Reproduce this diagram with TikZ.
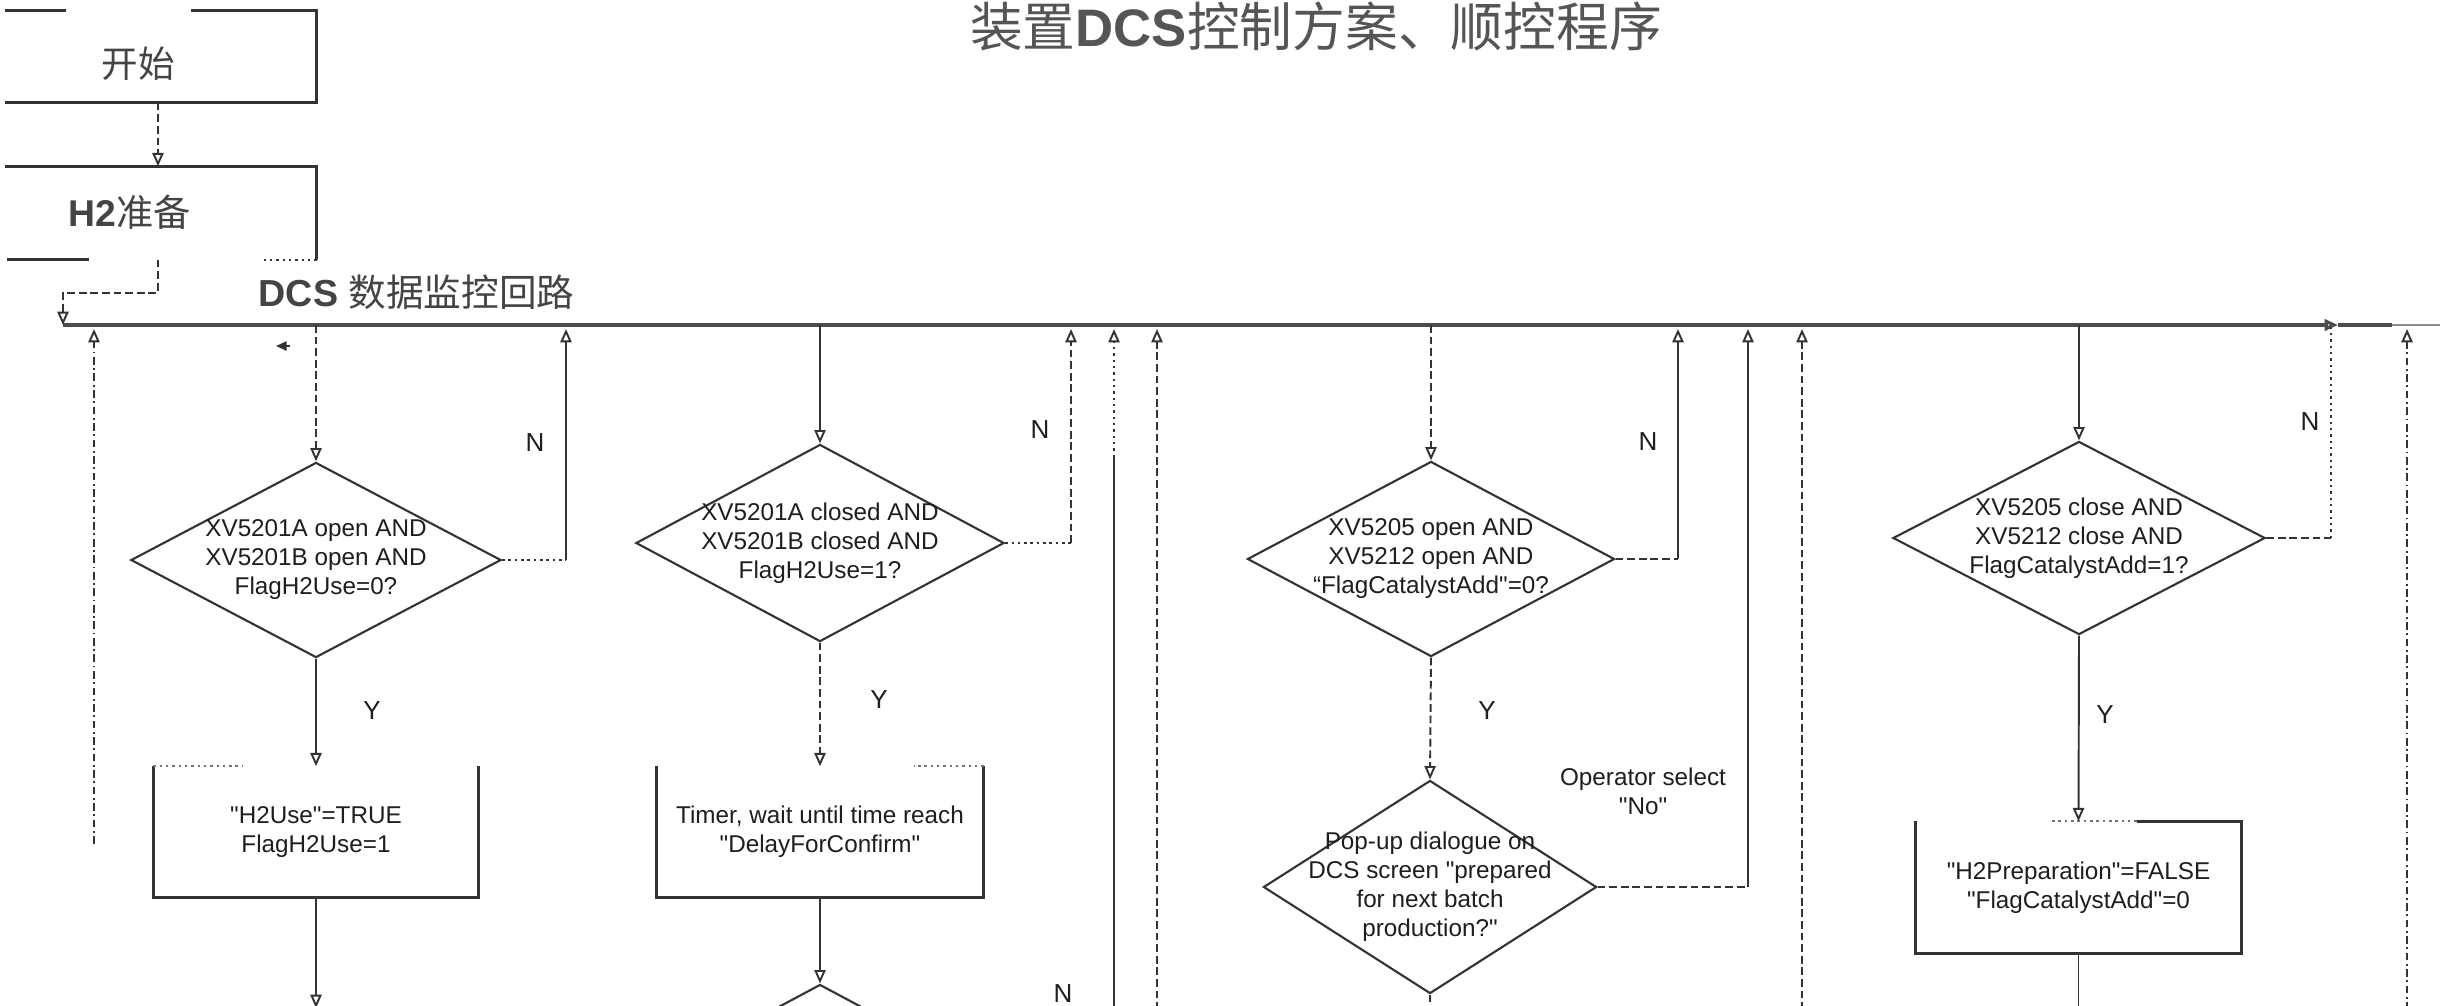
\documentclass[tikz,border=0pt]{standalone}
\usepackage{fontspec}
\setmainfont{Liberation Sans}[Ligatures=TeXOff]
\newfontfamily\cjk{Noto Sans CJK SC}
\usetikzlibrary{arrows.meta,shapes.geometric,calc}
\definecolor{ink}{HTML}{1E1E1E}
\definecolor{headgray}{HTML}{555555}
\definecolor{labgray}{HTML}{444444}
\definecolor{linegray}{HTML}{333333}
\begin{document}
\begin{tikzpicture}[x=0.01cm,y=-0.01cm]
\tikzset{
 ln/.style={draw=linegray, line width=0.55pt},
 dsh/.style={ln, dash pattern=on 2.2pt off 1.1pt},
 ddot/.style={ln, dash pattern=on 2.2pt off 1pt on 0.5pt off 1pt},
 dotl/.style={ln, dash pattern=on 0.7pt off 1.1pt},
 arr/.style={-{Triangle[open,length=3.8pt,width=3.2pt]}},
 boxln/.style={draw=linegray, line width=0.8pt},
 busln/.style={draw=black!70, line width=0.9pt},
 dia/.style={diamond, draw=linegray, line width=0.6pt, inner sep=0pt, aspect=1.9},
 bx/.style={rectangle, inner sep=0pt, draw=none},
 txt/.style={font=\fontsize{6.9pt}{8.25pt}\selectfont, text=ink, align=center, inner sep=0pt},
 yn/.style={font=\fontsize{7.4pt}{9pt}\selectfont, text=ink, inner sep=0pt},
 cn/.style={text=labgray, inner sep=0pt},
}
\useasboundingbox (0,0) rectangle (2451,1005);
\fill[white] (0,0) rectangle (2451,1005);

% title
\node[font=\fontsize{15pt}{18pt}\selectfont, text=headgray, inner sep=0pt] (title) at (1316,26)
  {{\cjk 装置}\textbf{DCS}{\cjk 控制方案、顺控程序}};

% start box
\node[bx, minimum width=3.16cm, minimum height=0.91cm] (start) at (158,56.5) {};
\draw[boxln] ($(start.north west)+(6,0)$) -- ($(start.north west)+(67,0)$);
\draw[boxln] ($(start.north west)+(192,0)$) -- (start.north east) -- (start.south east) -- ($(start.south west)+(6,0)$);
\node[cn, font=\cjk\fontsize{10.4pt}{12pt}\selectfont] (startlbl) at (138,64) {开始};

% H2 box
\node[bx, minimum width=3.16cm, minimum height=0.92cm] (h2) at (158,213) {};
\draw[boxln] ($(h2.north west)+(6,0)$) -- (h2.north east) -- (h2.south east);
\draw[boxln] ($(h2.south west)+(8,0)$) -- ($(h2.south west)+(90,0)$);
\draw[dotl] (h2.south east) -- ($(h2.south west)+(262,0)$);
\node[cn, font=\fontsize{10.6pt}{12pt}\selectfont] (h2lbl) at (130,212) {\textbf{H2}{\cjk 准备}};
\draw[dsh,arr] (start.south) -- (h2.north);

% bus
\coordinate (busL) at (63,325);
\coordinate (busArr) at (2338,325);
\coordinate (busM) at (2392,325);
\coordinate (busR) at (2440,325);
\draw[busln,arr] (busL) -- (busArr);
\draw[busln] (busArr) -- (busM);
\draw[ln, draw=black!45] (busM) -- (busR);
\draw[dsh,arr] (h2.south) -- ++(0,33) -| (busL);
\node[cn, font=\fontsize{10.7pt}{12pt}\selectfont, anchor=west] (loop) at (258,292) {\textbf{DCS} {\cjk 数据监控回路}};

% ---------- column 1
\node[dia, minimum width=3.7cm, minimum height=1.95cm] (d1) at (316,560) {};
\node[txt] (d1t) at (d1.center) {XV5201A open AND\\XV5201B open AND\\FlagH2Use=0?};
\draw[dsh,arr] (d1.north |- busL) -- (d1.north);
\node[bx, minimum width=3.24cm, minimum height=1.30cm] (bx1) at (316,832) {};
\node[txt] (bx1t) at (bx1.center) {"H2Use"=TRUE\\FlagH2Use=1};
\draw[boxln] (bx1.north west) -- (bx1.south west) -- (bx1.south east) -- (bx1.north east);
\draw[dotl, draw=black!55] (bx1.north west) -- ++(90,0);
\draw[ln,arr] (d1.south) -- (bx1.north);
\node[yn] (y1) at (372,711) {Y};
\coordinate (e1) at (316,1008);
\draw[ln,arr] (bx1.south) -- (e1);
\coordinate (n1) at (566,329);
\draw[dotl] (d1.east) -- (d1.east -| n1);
\draw[ln,arr] (d1.east -| n1) -- (n1);
\node[yn] (nl1) at (535,443) {N};
\coordinate (l1a) at (94,844);
\coordinate (l1b) at (94,329);
\draw[ddot,arr] (l1a) -- (l1b);
\coordinate (m1a) at (290,346);
\coordinate (m1b) at (276,346);
\draw[ln,-{Triangle[length=3pt,width=2.6pt]}] (m1a) -- (m1b);

% ---------- column 2
\node[dia, minimum width=3.68cm, minimum height=1.97cm] (d2) at (820,543) {};
\node[txt] (d2t) at (d2.center) {XV5201A closed AND\\XV5201B closed AND\\FlagH2Use=1?};
\draw[ln,arr] (d2.north |- busL) -- (d2.north);
\node[bx, minimum width=3.26cm, minimum height=1.30cm] (bx2) at (820,832) {};
\node[txt] (bx2t) at (bx2.center) {Timer, wait until time reach\\"DelayForConfirm"};
\draw[boxln] (bx2.north west) -- (bx2.south west) -- (bx2.south east) -- (bx2.north east);
\draw[dotl, draw=black!55] (bx2.north east) -- ++(-70,0);
\draw[dsh,arr] (d2.south) -- (bx2.north);
\node[yn] (y2) at (879,700) {Y};
\node[dia, minimum width=3.68cm, minimum height=1.97cm] (d2b) at (820,1083) {};
\draw[ln,arr] (bx2.south) -- (d2b.north);
\node[yn] (nl2b) at (1063,994) {N};
\coordinate (n2) at (1071,329);
\draw[dotl] (d2.east) -- (d2.east -| n2);
\draw[dsh,arr] (d2.east -| n2) -- (n2);
\node[yn] (nl2) at (1040,430) {N};
\coordinate (v1a) at (1114,1010);
\coordinate (v1m) at (1114,457);
\coordinate (v1b) at (1114,329);
\draw[ln] (v1a) -- (v1m);
\draw[dotl,arr] (v1m) -- (v1b);
\coordinate (v2a) at (1157,1010);
\coordinate (v2b) at (1157,329);
\draw[dsh,arr] (v2a) -- (v2b);

% ---------- column 3
\node[dia, minimum width=3.67cm, minimum height=1.95cm] (d3) at (1431,559) {};
\node[txt] (d3t) at (d3.center) {XV5205 open AND\\XV5212 open AND\\“FlagCatalystAdd"=0?};
\draw[dsh,arr] (d3.north |- busL) -- (d3.north);
\coordinate (n3) at (1678,329);
\draw[dsh] (d3.east) -- (d3.east -| n3);
\draw[ln,arr] (d3.east -| n3) -- (n3);
\node[yn] (nl3) at (1648,442) {N};
\node[dia, minimum width=3.33cm, minimum height=2.13cm] (pop) at (1430,887) {};
\node[txt] (popt) at (pop.center) {Pop-up dialogue on\\DCS screen "prepared\\for next batch\\production?"};
\draw[dsh,arr] (d3.south) -- (pop.north);
\node[yn] (y3) at (1487,711) {Y};
\coordinate (op) at (1748,329);
\draw[dsh] (pop.east) -- (pop.east -| op);
\draw[ln,arr] (pop.east -| op) -- (op);
\node[txt] (opl) at (1643,791) {Operator select\\"No"};
\coordinate (e3) at (1430,1010);
\draw[dsh] (pop.south) -- (e3);
\coordinate (v3a) at (1802,1010);
\coordinate (v3b) at (1802,329);
\draw[dsh,arr] (v3a) -- (v3b);

% ---------- column 4
\node[dia, minimum width=3.72cm, minimum height=1.93cm] (d4) at (2079,538) {};
\node[txt] (d4t) at (d4.center) {XV5205 close AND\\XV5212 close AND\\FlagCatalystAdd=1?};
\draw[ln,arr] (d4.north |- busL) -- (d4.north);
\node[bx, minimum width=3.25cm, minimum height=1.31cm] (bx4) at (2078.5,887.5) {};
\node[txt] (bx4t) at (bx4.center) {"H2Preparation"=FALSE\\"FlagCatalystAdd"=0};
\draw[boxln] (bx4.north west) -- (bx4.south west) -- (bx4.south east) -- (bx4.north east) -- ++(-105,0);
\draw[dotl, draw=black!55] ($(bx4.north east)+(-105,0)$) -- ++(-85,0);
\draw[ln,arr] (d4.south) -- (bx4.north);
\node[yn] (y4) at (2105,715) {Y};
\coordinate (e4) at (2078.5,1010);
\draw[ln] (bx4.south) -- (e4);
\coordinate (n4) at (2331,325);
\draw[dsh] (d4.east) -- (d4.east -| n4);
\draw[dotl] (d4.east -| n4) -- (n4);
\node[yn] (nl4) at (2310,422) {N};
\coordinate (v4a) at (2407,1010);
\coordinate (v4b) at (2407,329);
\draw[ddot,arr] (v4a) -- (v4b);
\end{tikzpicture}
\end{document}
